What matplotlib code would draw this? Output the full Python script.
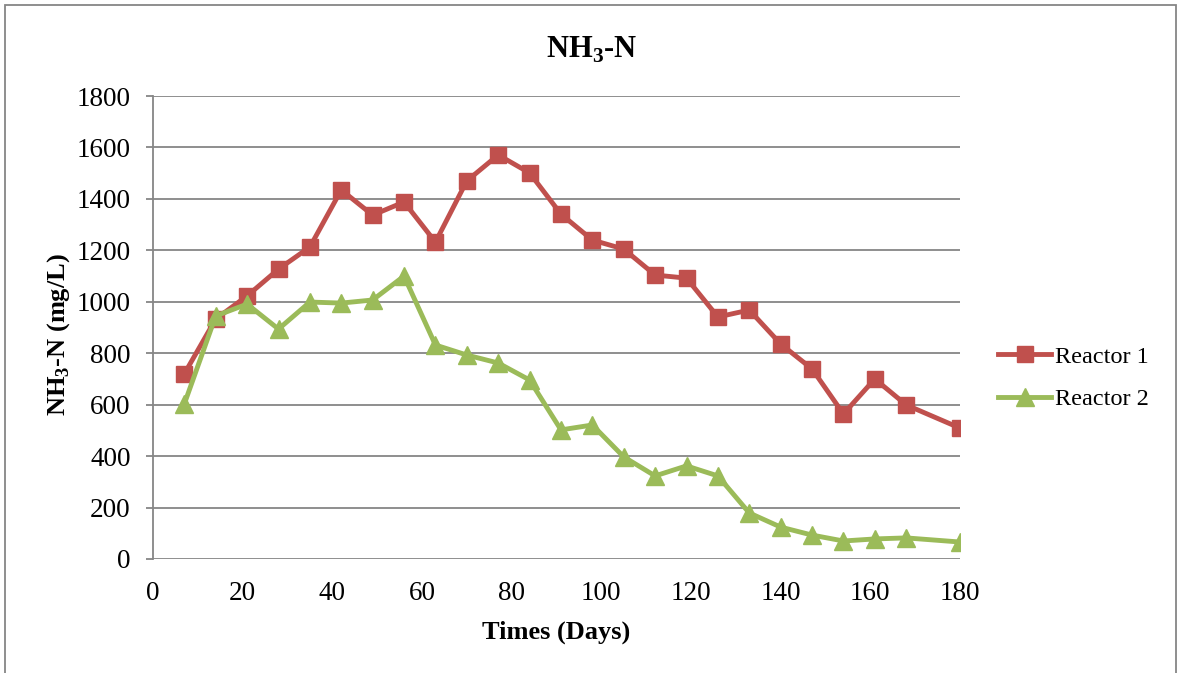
import matplotlib
matplotlib.use("Agg")
import matplotlib.pyplot as plt
from matplotlib.patches import Rectangle

days = [7, 14, 21, 28, 35, 42, 49, 56, 63, 70, 77, 84, 91, 98, 105,
        112, 119, 126, 133, 140, 147, 154, 161, 168, 180]
reactor1 = [720, 933, 1023, 1127, 1213, 1435, 1337, 1388, 1232, 1470, 1571,
            1501, 1341, 1240, 1205, 1104, 1092, 941, 968, 836, 739, 564,
            700, 599, 509]
reactor2 = [603, 945, 991, 894, 999, 995, 1007, 1100, 832, 793, 762, 696,
            502, 521, 397, 323, 362, 323, 179, 124, 93, 70, 78, 82, 66]
x_ticks = list(range(0, 181, 20))
y_ticks = list(range(0, 1801, 200))

plt.rcParams["font.family"] = ["Liberation Serif", "DejaVu Serif"]
plt.rcParams["mathtext.fontset"] = "custom"
plt.rcParams["mathtext.rm"] = "Liberation Serif"
plt.rcParams["mathtext.bf"] = "Liberation Serif:bold"

fig = plt.figure(figsize=(11.83, 6.73), dpi=100)
ax = fig.add_axes([0.1293, 0.1694, 0.6822, 0.6879])

grid_c = "#868686"
ax.plot(days, reactor1, color="#C0504D", lw=3.5, marker="s", ms=11.5,
        label="Reactor 1", zorder=3)
ax.plot(days, reactor2, color="#9BBB59", lw=3.5, marker="^", ms=12.5,
        label="Reactor 2", zorder=3)

ax.set_xlim(0, 180)
ax.set_ylim(0, 1800)
ax.set_xticks(x_ticks)
ax.set_yticks(y_ticks)
ax.yaxis.grid(True, color=grid_c, lw=1.3)
ax.set_axisbelow(True)
for s in ["top", "right", "bottom"]:
    ax.spines[s].set_visible(False)
ax.spines["left"].set_color(grid_c)
ax.spines["left"].set_linewidth(1.3)
ax.tick_params(axis="y", length=5, color=grid_c, width=1.3, labelsize=19.5, pad=11)
ax.tick_params(axis="x", length=0, labelsize=19.5, pad=16)

ax.set_xlabel("Times (Days)", fontsize=19, fontweight="bold", labelpad=10)
ax.set_ylabel(r"NH$_\mathbf{3}$-N (mg/L)", fontsize=19, fontweight="bold")
ax.yaxis.set_label_coords(-0.100, 0.485)
fig.text(0.5, 0.926, r"NH$_\mathbf{3}$-N", fontsize=22, fontweight="bold",
         ha="center", va="center")

ax.legend(loc="center left", bbox_to_anchor=(1.02, 0.391), frameon=False,
          fontsize=17.5, handlelength=2.2, handletextpad=0.15, labelspacing=0.85)

fig.patches.append(Rectangle((0.004, -0.01), 0.99, 1.002, transform=fig.transFigure,
                             fill=False, edgecolor="#868686", lw=1.3))

fig.savefig("out.png", dpi=100, facecolor="white")
